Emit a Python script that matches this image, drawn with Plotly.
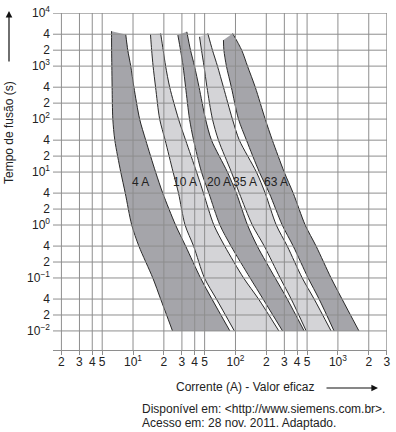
import numpy as np
import plotly.graph_objects as go

# ---------------- data ----------------
# Time levels (s) shared by every edge below its top point
T_LEVELS = [2000, 1000, 400, 100, 40, 10, 4, 1, 0.4, 0.1, 0.04, 0.01]

RATINGS = ["4 A", "10 A", "20 A", "35 A", "63 A"]
TOP_T_LEFT = [4570, 3960, 3850, 3570, 3100]    # s, top of left edge
TOP_T_RIGHT = [3960, 4140, 4440, 4140, 4140]   # s, top of right edge

# Current (A): first value at the top point, then at each of T_LEVELS
I4_LEFT = [6.17, 6.18, 6.21, 6.25, 6.35, 6.64, 7.59, 8.40, 9.71, 11.4, 15.6, 18.6, 24.3]
I4_RIGHT = [8.49, 8.88, 9.50, 10.2, 11.6, 13.3, 16.6, 19.5, 26.0, 32.6, 45.6, 58.9, 88.2]
I10_LEFT = [14.8, 15.2, 15.7, 16.6, 18.2, 20.6, 24.6, 27.8, 32.2, 39.0, 49.8, 65.2, 97.6]
I10_RIGHT = [18.6, 19.7, 20.8, 22.8, 27.8, 32.6, 41.7, 48.7, 61.5, 78.5, 120, 168, 265]
I20_LEFT = [27.4, 29.1, 30.8, 32.6, 35.6, 39.0, 46.6, 55.0, 70.5, 90.5, 139, 186, 288]
I20_RIGHT = [33.5, 36.4, 39.8, 44.1, 51.0, 58.3, 83.4, 102, 131, 163, 244, 320, 468]
I35_LEFT = [44.6, 46.6, 49.3, 52.7, 59.6, 68.2, 91.2, 109, 146, 191, 273, 350, 490]
I35_RIGHT = [53.7, 59.6, 66.7, 76.3, 93.3, 109, 160, 195, 250, 320, 448, 586, 857]
I63_LEFT = [76.3, 77.1, 81.6, 91.2, 107, 128, 171, 214, 286, 366, 512, 655, 917]
I63_RIGHT = [93.9, 115, 131, 156, 195, 229, 299, 366, 479, 612, 857, 1096, 1604]

LEFTS = [I4_LEFT, I10_LEFT, I20_LEFT, I35_LEFT, I63_LEFT]
RIGHTS = [I4_RIGHT, I10_RIGHT, I20_RIGHT, I35_RIGHT, I63_RIGHT]

# label anchor points (A, s)
LABEL_I = [11.9, 31.8, 69.7, 125, 250]
LABEL_T = 6.47

X_GRID = [2, 3, 4, 5, 10, 20, 30, 40, 50, 100, 200, 300, 400, 500, 1000, 2000, 3000]
X_TEXT = ["2", "3", "4", "5", "10<sup>1</sup>", "2", "3", "4", "5", "10<sup>2</sup>",
          "2", "3", "4", "5", "10<sup>3</sup>", "2", "3"]
Y_GRID = [0.01, 0.02, 0.04, 0.1, 0.2, 0.4, 1, 2, 4, 10, 20, 40, 100, 200, 400,
          1000, 2000, 4000, 10000]
Y_TEXT = ["10<sup>\u22122</sup>", "2", "4", "10<sup>\u22121</sup>", "2", "4",
          "10<sup>0</sup>", "2", "4", "10<sup>1</sup>", "2", "4", "10<sup>2</sup>", "2", "4",
          "10<sup>3</sup>", "2", "4", "10<sup>4</sup>"]

# ---------------- styling ----------------
DARK = "#a5a5aa"
LIGHT = "#d4d4d7"
FILLS = [DARK, LIGHT, DARK, LIGHT, DARK]
EDGE = "#2a2a2a"
GRID = "#8e8e8e"
TXT = "#222222"
FONT = "Liberation Sans, Arial, sans-serif"

W, H = 396, 432
L, R, T, B = 53, 9, 13, 82
PW, PH = W - L - R, H - T - B


def px(xpix):
    return (xpix - L) / PW


def py(ypix):
    return (H - B - ypix) / PH


fig = go.Figure()

for k in range(len(RATINGS)):
    tl = [TOP_T_LEFT[k]] + T_LEVELS
    tr = [TOP_T_RIGHT[k]] + T_LEVELS
    il, ir = LEFTS[k], RIGHTS[k]
    fig.add_trace(go.Scatter(
        x=il + ir[::-1], y=tl + tr[::-1], mode="lines", fill="toself",
        fillcolor=FILLS[k], line=dict(width=0, color=FILLS[k]),
        hoverinfo="skip", showlegend=False))
    for xs, ts in ((il, tl), (ir, tr)):
        fig.add_trace(go.Scatter(
            x=xs, y=ts, mode="lines",
            line=dict(color=EDGE, width=1, shape="spline", smoothing=0.8),
            hoverinfo="skip", showlegend=False))

shapes = []
for xv in X_GRID:
    shapes.append(dict(type="line", xref="x", yref="paper", x0=xv, x1=xv,
                       y0=0, y1=1, layer="above", line=dict(color=GRID, width=1)))
for yv in Y_GRID:
    shapes.append(dict(type="line", xref="paper", yref="y", x0=0, x1=1,
                       y0=yv, y1=yv, layer="above", line=dict(color=GRID, width=1)))

TF = dict(size=12, color=TXT, family=FONT)
ann = []
for k, lab in enumerate(RATINGS):
    ann.append(dict(x=np.log10(LABEL_I[k]), y=np.log10(LABEL_T), xref="x", yref="y",
                    xanchor="center", yanchor="middle",
                    text=lab, showarrow=False, font=TF))

ann += [
    dict(x=px(9), y=py(132), xref="paper", yref="paper", text="Tempo de fusão (s)",
         xanchor="center", yanchor="middle",
         textangle=-90, showarrow=False, font=TF),
    dict(x=px(9), y=py(11), xref="paper", yref="paper", text="", showarrow=True,
         ax=0, ay=52, arrowhead=2, arrowsize=1.1, arrowwidth=1.2, arrowcolor="#111"),
    dict(x=px(245.5), y=py(387), xref="paper", yref="paper",
         xanchor="center", yanchor="middle",
         text="Corrente (A) - Valor eficaz", showarrow=False, font=TF),
    dict(x=px(378), y=py(388), xref="paper", yref="paper", text="", showarrow=True,
         ax=-53, ay=0, arrowhead=2, arrowsize=1.1, arrowwidth=1.2, arrowcolor="#111"),
    dict(x=px(140), y=py(409), xref="paper", yref="paper", xanchor="left",
         yanchor="middle",
         text="Disponível em: &lt;http://www.siemens.com.br&gt;.", showarrow=False,
         font=TF),
    dict(x=px(140), y=py(423), xref="paper", yref="paper", xanchor="left",
         yanchor="middle",
         text="Acesso em: 28 nov. 2011. Adaptado.", showarrow=False, font=TF),
]

fig.update_layout(
    width=W, height=H, margin=dict(l=L, r=R, t=T, b=B, pad=0, autoexpand=False),
    paper_bgcolor="white", plot_bgcolor="white",
    font=dict(family=FONT, size=12, color=TXT),
    shapes=shapes, annotations=ann,
    xaxis=dict(type="log", range=[np.log10(1.655), np.log10(3000) + 0.002],
               tickvals=X_GRID, ticktext=X_TEXT, showgrid=False, zeroline=False,
               ticks="outside", ticklen=4, tickcolor=GRID, showline=True,
               linecolor=GRID, linewidth=1, ticklabelstandoff=-3, automargin=False,
               ticklabeloverflow="allow", tickfont=dict(size=12, color=TXT)),
    yaxis=dict(type="log", range=[-2.36, 4.003], tickvals=Y_GRID, ticktext=Y_TEXT,
               showgrid=False, zeroline=False, ticks="", showline=False, automargin=False,
               ticklabelstandoff=2, tickfont=dict(size=12, color=TXT)),
)

fig.write_html("out.html", config={"displayModeBar": False, "staticPlot": True},
               post_script="document.body.style.margin='0';document.body.style.padding='0';")
